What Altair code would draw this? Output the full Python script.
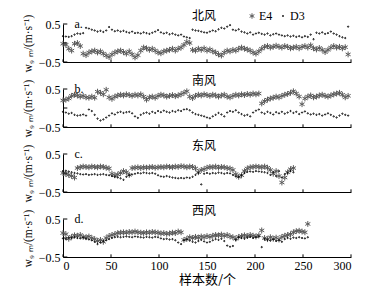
import altair as alt
import pandas as pd

STEP = 3  # sample spacing of the values below

# Panel a (北风)
a_e4 = [-0.02, -0.05, -0.15, -0.2, -0.02, 0.0, -0.08, -0.28, -0.32, -0.25,
        -0.22, -0.2, -0.25, -0.22, -0.28, -0.33, -0.37, -0.3, -0.25, -0.22,
        -0.2, -0.24, -0.28, -0.22, -0.3, -0.38, -0.32, -0.2, -0.12, -0.14,
        -0.18, -0.15, -0.2, -0.25, -0.27, -0.22, -0.2, -0.18, -0.15, -0.2,
        -0.15, -0.12, -0.05, 0.03, 0.0, -0.18, -0.2, -0.15, -0.18, -0.14,
        -0.2, -0.17, -0.22, -0.25, -0.3, -0.33, -0.25, -0.2, -0.22, -0.18,
        -0.2, -0.15, -0.12, -0.15, -0.17, -0.2, -0.25, -0.28, -0.22, -0.15,
        -0.1, -0.08, -0.12, -0.1, -0.07, -0.1, -0.12, -0.08, -0.1, -0.14,
        -0.12, -0.1, -0.14, -0.1, -0.08, -0.12, -0.06, -0.14, -0.17, -0.13,
        -0.18, -0.24, -0.18, -0.12, -0.08, -0.12, -0.1, -0.14, -0.11, -0.3]
a_d3 = [0.18, 0.17, 0.16, 0.18, 0.22, 0.25, 0.24, 0.26, 0.4, 0.38,
        0.35, 0.33, 0.3, 0.32, 0.29, 0.33, 0.42, 0.35, 0.31, 0.33,
        0.3, 0.32, 0.29, 0.27, 0.3, 0.26, 0.27, 0.25, 0.28, 0.26,
        0.24, 0.27, 0.3, 0.34, 0.28, 0.25, 0.27, 0.23, 0.25, 0.22,
        0.2, 0.22, 0.17, 0.15, 0.13, 0.35, 0.33, 0.32, 0.3, 0.28,
        0.27, 0.3, 0.33, 0.31, 0.36, 0.4, 0.38, 0.43, 0.47, 0.35,
        0.33, 0.36, 0.3, 0.28, 0.25, 0.28, 0.22, 0.25, 0.27, 0.24,
        0.22, 0.25, 0.2, 0.23, 0.25, 0.22, 0.2, 0.18, 0.2, 0.17,
        0.19, 0.16, 0.18, 0.15, 0.18, 0.16, 0.22, 0.1, 0.27, 0.25,
        0.28, 0.24, 0.26, 0.3, 0.25, 0.22, 0.18, 0.15, 0.13, 0.43]

# Panel b (南风)
b_e4 = [0.2, 0.22, 0.25, 0.32, 0.35, 0.33, 0.3, 0.32, 0.28, 0.27,
        0.3, 0.27, 0.43, 0.4, 0.36, 0.48, 0.28, 0.24, 0.3, 0.33,
        0.35, 0.33, 0.36, 0.34, 0.32, 0.35, 0.33, 0.36, 0.3, 0.22,
        0.28, 0.3, 0.27, 0.32, 0.35, 0.33, 0.3, 0.32, 0.34, 0.31,
        0.33, 0.36, 0.4, 0.44, 0.3, 0.26, 0.32, 0.35, 0.33, 0.36,
        0.34, 0.32, 0.35, 0.33, 0.3, 0.33, 0.35, 0.3, 0.28, 0.32,
        0.35, 0.33, 0.36, 0.34, 0.37, 0.35, 0.38, 0.36, 0.38, 0.12,
        0.18, 0.22, 0.25, 0.27, 0.3, 0.28, 0.32, 0.35, 0.37, 0.4,
        0.44, 0.38, 0.3, 0.1, 0.25, 0.3, 0.33, 0.28, 0.3, 0.33,
        0.35, 0.32, 0.3, 0.33, 0.36, 0.38, 0.4, 0.35, 0.28, 0.32]
b_d3 = [-0.1, -0.12, -0.15, -0.13, -0.18, -0.2, -0.19, -0.17, -0.2, -0.04,
        -0.08, -0.18, -0.28, -0.33, -0.3, -0.25, -0.2, -0.14, -0.17, -0.12,
        -0.1, -0.13, -0.11, -0.1, -0.14, -0.22, -0.26, -0.18, -0.14, -0.12,
        -0.15, -0.1, -0.13, -0.08, -0.11, -0.07, -0.1, -0.12, -0.08, -0.1,
        -0.06, -0.08, -0.04, -0.03, -0.06, -0.12, -0.16, -0.18, -0.2, -0.22,
        -0.25, -0.27, -0.22, -0.18, -0.13, -0.17, -0.22, -0.12, -0.08, -0.1,
        -0.06, -0.12, -0.16, -0.2, -0.18, -0.22, -0.12, -0.07, -0.04, -0.12,
        -0.15, -0.1, -0.13, -0.17, -0.11, -0.14, -0.1, -0.15, -0.12, -0.08,
        -0.13, -0.1, -0.16, -0.12, -0.09, -0.14, -0.17, -0.15, -0.18, -0.16,
        -0.2, -0.17, -0.14, -0.18, -0.22, -0.25, -0.2, -0.15, -0.18, -0.2]

# Panel c (东风)
c_e4 = [0.0, -0.03, -0.05, -0.08, -0.12, 0.13, 0.15, 0.17, 0.16, 0.15,
        0.17, 0.16, 0.15, 0.17, 0.16, 0.14, 0.12, -0.02, -0.06, -0.04,
        0.0, 0.05, 0.02, -0.05, 0.13, 0.14, 0.15, 0.13, 0.15, 0.14,
        0.15, 0.16, 0.14, 0.15, 0.16, 0.15, 0.17, 0.16, 0.15, 0.17,
        0.16, 0.18, 0.17, 0.15, 0.17, 0.16, 0.12, 0.02, 0.08, 0.1,
        0.14, 0.16, 0.15, 0.17, 0.14, 0.16, 0.15, 0.13, 0.12, 0.08,
        -0.03, -0.1, -0.06, 0.05, 0.12, 0.15, 0.16, 0.17, 0.16, 0.15,
        0.17, 0.14, 0.08, -0.02, 0.05, -0.08, -0.25, -0.12, 0.02, 0.1,
        0.13]
c_d3 = [0.05, 0.06, 0.04, 0.02, 0.0, -0.01, -0.03, -0.04, -0.03, -0.05,
        -0.04, -0.03, -0.05, -0.04, -0.03, -0.05, -0.06, -0.08, -0.1, -0.12,
        -0.14, -0.18, -0.1, -0.06, -0.04, -0.02, 0.0, -0.01, 0.01, 0.0,
        -0.01, 0.0, -0.02, -0.06, -0.09, -0.1, -0.08, -0.1, -0.12, -0.13,
        -0.14, -0.13, -0.14, -0.12, -0.13, -0.1, -0.05, 0.0, -0.3, -0.02,
        0.0, -0.02, 0.0, -0.01, 0.01, 0.0, -0.02, 0.0, -0.01, -0.05,
        -0.09, -0.1, -0.06, 0.0, 0.03, 0.04, 0.03, 0.05, 0.04, 0.03,
        0.02, 0.0, -0.05, 0.02, -0.08, 0.05, -0.12, -0.03, 0.0, 0.05,
        0.02]

# Panel d (西风)
d_e4 = [0.13, 0.1, -0.02, 0.03, 0.07, 0.06, 0.08, 0.03, 0.02, 0.04,
        0.0, -0.03, -0.08, -0.05, -0.1, 0.0, 0.05, 0.08, 0.1, 0.13,
        0.14, 0.15, 0.14, 0.16, 0.15, 0.17, 0.15, 0.14, 0.13, 0.15,
        0.14, 0.16, 0.15, 0.14, 0.12, 0.13, 0.11, 0.12, 0.14, 0.13,
        0.17, 0.15, -0.05, -0.02, 0.02, 0.0, 0.03, 0.01, 0.04, 0.02,
        0.05, 0.03, 0.06, 0.08, 0.07, 0.09, 0.06, 0.08, 0.04, 0.02,
        -0.02, 0.03, 0.05, 0.07, 0.05, 0.08, 0.06, 0.04, 0.07, 0.2,
        0.0, -0.03, 0.02, -0.02, 0.01, -0.04, 0.03, 0.06, 0.08, 0.1,
        0.15, 0.18, 0.19, 0.17, 0.15, 0.37]
d_d3 = [-0.01, -0.03, 0.01, 0.0, 0.02, 0.0, -0.01, 0.01, -0.02, -0.04,
        -0.06, -0.1, -0.16, -0.12, -0.08, -0.06, -0.03, 0.0, 0.02, 0.03,
        0.02, 0.03, 0.04, 0.03, 0.02, 0.04, 0.03, 0.02, 0.01, 0.03,
        0.02, 0.01, 0.03, 0.02, -0.01, -0.03, -0.02, -0.04, -0.03, -0.06,
        -0.12, -0.16, -0.06, -0.04, -0.07, -0.1, -0.12, -0.08, -0.05, -0.09,
        -0.12, -0.1, -0.06, -0.03, -0.05, -0.02, -0.08, -0.2, -0.23, -0.21,
        -0.05, 0.02, 0.0, -0.02, 0.01, 0.03, 0.0, 0.02, 0.04, -0.24,
        -0.03, -0.05, -0.07, -0.04, -0.08, -0.06, -0.1, -0.03, 0.0, -0.02,
        0.01, 0.0, 0.02, 0.0, -0.01, 0.02]

panel_titles = ["北风", "南风", "东风", "西风"]
panel_letters = ["a.", "b.", "c.", "d."]
series_names = ["E4", "D3"]
x_ticks = [0, 50, 100, 150, 200, 250, 300]
y_ticks = [-0.5, 0, 0.5]
y_title = "w₉ ₘ/(m·s⁻¹)"

SERIF = "Liberation Serif"
CJK = "Noto Sans CJK SC"
ASTERISK = "M0,-1L0,1M-0.87,-0.5L0.87,0.5M-0.87,0.5L0.87,-0.5"
DOT = "M-0.22,0A0.22,0.22 0 1,0 0.22,0A0.22,0.22 0 1,0 -0.22,0Z"


def make_df(e4, d3):
    rows = []
    for i, v in enumerate(e4):
        rows.append({"x": i * STEP, "w": v, "series": "E4"})
    for i, v in enumerate(d3):
        rows.append({"x": i * STEP, "w": v, "series": "D3"})
    return pd.DataFrame(rows)


xscale = alt.Scale(domain=[0, 300], nice=False, zero=False)
yscale = alt.Scale(domain=[-0.5, 0.5], nice=False)

legend = alt.Legend(
    title=None, orient="none", direction="horizontal",
    legendX=183, legendY=-14, padding=0,
    labelFont=SERIF, labelFontSize=12, labelColor="black",
    symbolSize=30, symbolStrokeWidth=1, columnPadding=4, labelOffset=1,
)


def panel(e4, d3, title, letter, last):
    df = make_df(e4, d3)
    if last:
        xaxis = alt.Axis(values=x_ticks, ticks=False, labels=True, labelPadding=3,
                         labelFont=SERIF, labelFontSize=12, labelColor="black",
                         domainColor="black", grid=False,
                         titleFont=CJK, titleFontSize=13, titleFontWeight="normal",
                         titleColor="black", titlePadding=2)
        xenc = alt.X("x:Q", scale=xscale, axis=xaxis, title="样本数/个")
    else:
        xaxis = alt.Axis(values=x_ticks, ticks=False, labels=False,
                         domainColor="black", grid=False)
        xenc = alt.X("x:Q", scale=xscale, axis=xaxis, title=None)
    yaxis = alt.Axis(values=y_ticks, ticks=False, labelPadding=3, format="~g",
                     labelFont=SERIF, labelFontSize=12, labelColor="black",
                     domainColor="black", grid=False,
                     titleFont=SERIF, titleFontSize=11.5, titleFontWeight="normal",
                     titleColor="black", titlePadding=5)
    pts = alt.Chart(df).mark_point(filled=False, strokeWidth=1, opacity=1, size=34).encode(
        x=xenc,
        y=alt.Y("w:Q", scale=yscale, axis=yaxis, title=y_title),
        color=alt.Color("series:N", scale=alt.Scale(domain=series_names,
                        range=["#5a5a5a", "#000000"]), legend=legend),
        shape=alt.Shape("series:N", scale=alt.Scale(domain=series_names,
                        range=[ASTERISK, DOT]), legend=legend),
    )
    xt = alt.Chart(pd.DataFrame({"x": x_ticks})).mark_rule(
        color="black", strokeWidth=1).encode(
        x="x:Q", y=alt.datum(-0.5), y2=alt.datum(-0.43))
    yt = alt.Chart(pd.DataFrame({"w": y_ticks})).mark_rule(
        color="black", strokeWidth=1).encode(
        y="w:Q", x=alt.datum(0), x2=alt.datum(4.5))
    lab = alt.Chart(pd.DataFrame({"t": [letter]})).mark_text(
        align="left", baseline="middle", font=SERIF, fontSize=12,
        color="black").encode(
        x=alt.datum(12), y=alt.datum(0.5), text="t:N")
    ttl = alt.Chart(pd.DataFrame({"t": [title]})).mark_text(
        align="center", baseline="bottom", font=CJK, fontSize=12,
        color="black", dy=-1).encode(
        x=alt.datum(147), y=alt.datum(0.5), text="t:N")
    return alt.layer(pts, xt, yt, lab, ttl).properties(width=288, height=38)


series = [(a_e4, a_d3), (b_e4, b_d3), (c_e4, c_d3), (d_e4, d_d3)]
charts = [panel(e, d, t, l, i == 3)
          for i, ((e, d), t, l) in enumerate(zip(series, panel_titles, panel_letters))]

chart = alt.vconcat(*charts, spacing=27, bounds="flush").properties(
    padding={"left": 22, "top": 10, "right": 5, "bottom": 0},
    background="white",
).configure_view(stroke=None)

chart.save("out.html", embed_options={"renderer": "svg", "actions": False})
